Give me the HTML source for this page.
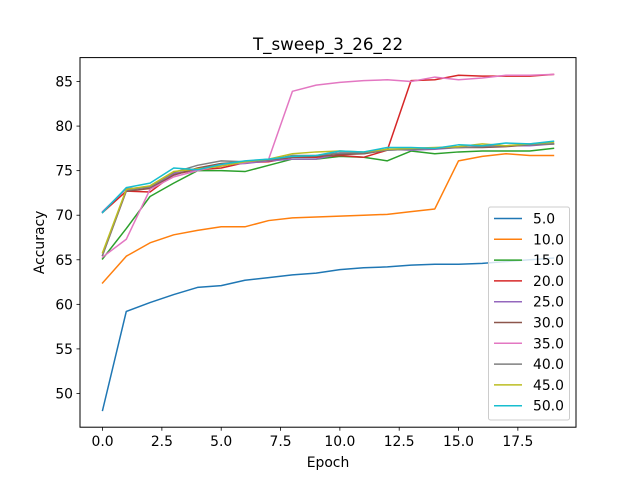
<!DOCTYPE html>
<html><head><meta charset="utf-8"><style>body{margin:0;background:#fff}svg{display:block;font-family:"DejaVu Sans","Liberation Sans",sans-serif}</style></head>
<body>
<svg id="chart" width="640" height="480" xmlns="http://www.w3.org/2000/svg">
<rect width="640" height="480" fill="#fff"/>
<text x="328" y="50" font-size="16.7" text-anchor="middle">T_sweep_3_26_22</text>
<g id="plot"></g>
<rect x="80" y="57.6" width="496" height="369.6" fill="none" stroke="#000" stroke-width="1"/>
<text x="328" y="467" font-size="13.9" text-anchor="middle">Epoch</text>
<text x="0" y="0" font-size="13.9" text-anchor="middle" transform="translate(44,242.4) rotate(-90)">Accuracy</text>
</svg>
<script>
const epochs = [0,1,2,3,4,5,6,7,8,9,10,11,12,13,14,15,16,17,18,19];
const seriesNames = ["5.0","10.0","15.0","20.0","25.0","30.0","35.0","40.0","45.0","50.0"];
const s5  = [48.1,59.2,60.2,61.1,61.9,62.1,62.7,63.0,63.3,63.5,63.9,64.1,64.2,64.4,64.5,64.5,64.6,64.8,65.0,65.2];
const s10 = [62.4,65.4,66.9,67.8,68.3,68.7,68.7,69.4,69.7,69.8,69.9,70.0,70.1,70.4,70.7,76.1,76.6,76.9,76.7,76.7];
const s15 = [65.1,68.5,72.1,73.6,75.0,75.0,74.9,75.6,76.3,76.3,76.6,76.5,76.1,77.2,76.9,77.1,77.2,77.2,77.2,77.5];
const s20 = [70.3,72.7,72.6,74.6,75.1,75.3,75.9,76.0,76.5,76.5,76.7,76.5,77.3,85.1,85.2,85.7,85.6,85.6,85.6,85.8];
const s25 = [70.4,73.0,73.1,74.7,75.1,75.7,75.8,76.1,76.3,76.3,76.9,76.9,77.4,77.3,77.4,77.6,77.7,77.8,77.8,78.0];
const s30 = [65.5,72.7,73.0,74.5,75.3,75.8,76.0,76.2,76.5,76.6,76.8,76.9,77.3,77.4,77.5,77.6,77.6,77.7,77.9,78.0];
const s35 = [65.3,67.3,72.9,74.3,75.0,75.6,75.9,76.3,83.9,84.6,84.9,85.1,85.2,85.0,85.5,85.2,85.4,85.7,85.7,85.8];
const s40 = [65.5,72.8,73.2,74.8,75.6,76.1,76.0,76.2,76.7,76.7,77.0,77.0,77.3,77.4,77.5,77.6,77.7,77.8,77.9,78.0];
const s45 = [65.8,72.9,73.3,74.9,75.2,75.5,76.0,76.3,76.9,77.1,77.2,77.1,77.4,77.5,77.6,77.7,78.0,77.8,78.0,78.2];
const s50 = [70.3,73.1,73.6,75.3,75.1,75.7,76.1,76.3,76.6,76.7,77.2,77.1,77.6,77.6,77.5,77.9,77.8,78.1,78.0,78.3];
const xTicks = [0,2.5,5,7.5,10,12.5,15,17.5];
const xTickLabels = ["0.0","2.5","5.0","7.5","10.0","12.5","15.0","17.5"];
const yTicks = [50,55,60,65,70,75,80,85];
const yTickLabels = ["50","55","60","65","70","75","80","85"];

const allSeries=[s5,s10,s15,s20,s25,s30,s35,s40,s45,s50];
const colors=["#1f77b4","#ff7f0e","#2ca02c","#d62728","#9467bd","#8c564b","#e377c2","#7f7f7f","#bcbd22","#17becf"];
const L=80,R=576,T=57.6,B=427.2;
let xmin=Math.min(...epochs),xmax=Math.max(...epochs);let xm=(xmax-xmin)*0.05;xmin-=xm;xmax+=xm;
let vals=allSeries.flat();let ymin=Math.min(...vals),ymax=Math.max(...vals);let ym=(ymax-ymin)*0.05;ymin-=ym;ymax+=ym;
const X=v=>L+(v-xmin)/(xmax-xmin)*(R-L);
const Y=v=>B-(v-ymin)/(ymax-ymin)*(B-T);
const NS="http://www.w3.org/2000/svg";
const g=document.getElementById('plot');
function mk(t,a){const e=document.createElementNS(NS,t);for(const k in a)e.setAttribute(k,a[k]);return e;}
xTicks.forEach((v,i)=>{
  const tk=mk('line',{x1:X(v),x2:X(v),y1:B,y2:B+3.5,stroke:'#000','stroke-width':0.8});
  
  
  g.appendChild(tk);
  const t=mk('text',{x:X(v),y:B+19,'font-size':13.9,'text-anchor':'middle'});t.textContent=xTickLabels[i];
  
  
  g.appendChild(t);
});
yTicks.forEach((v,i)=>{
  const tk=mk('line',{x1:L-3.5,x2:L,y1:Y(v),y2:Y(v),stroke:'#000','stroke-width':0.8});
  
  
  g.appendChild(tk);
  const t=mk('text',{x:L-7,y:Y(v)+5,'font-size':13.9,'text-anchor':'end'});t.textContent=yTickLabels[i];
  
  
  g.appendChild(t);
});
allSeries.forEach((s,i)=>{
  const p=mk('polyline',{points:s.map((v,j)=>X(epochs[j])+','+Y(v)).join(' '),fill:'none',stroke:colors[i],'stroke-width':1.5,'stroke-linejoin':'round','stroke-linecap':'square'});
  
  
  g.appendChild(p);
});
const lg=mk('g',{});


lg.appendChild(mk('rect',{x:488.5,y:207,width:81,height:213,rx:2,fill:'#fff','fill-opacity':0.8,stroke:'#ccc','stroke-width':1}));
seriesNames.forEach((n,i)=>{
  const y=218.5+i*20.8;
  const e=mk('g',{});
  
  
  e.appendChild(mk('line',{x1:494,x2:522,y1:y,y2:y,stroke:colors[i],'stroke-width':1.5}));
  const t=mk('text',{x:533,y:y+5,'font-size':13.9});t.textContent=n;e.appendChild(t);
  lg.appendChild(e);
});
g.appendChild(lg);
</script>
</body></html>
